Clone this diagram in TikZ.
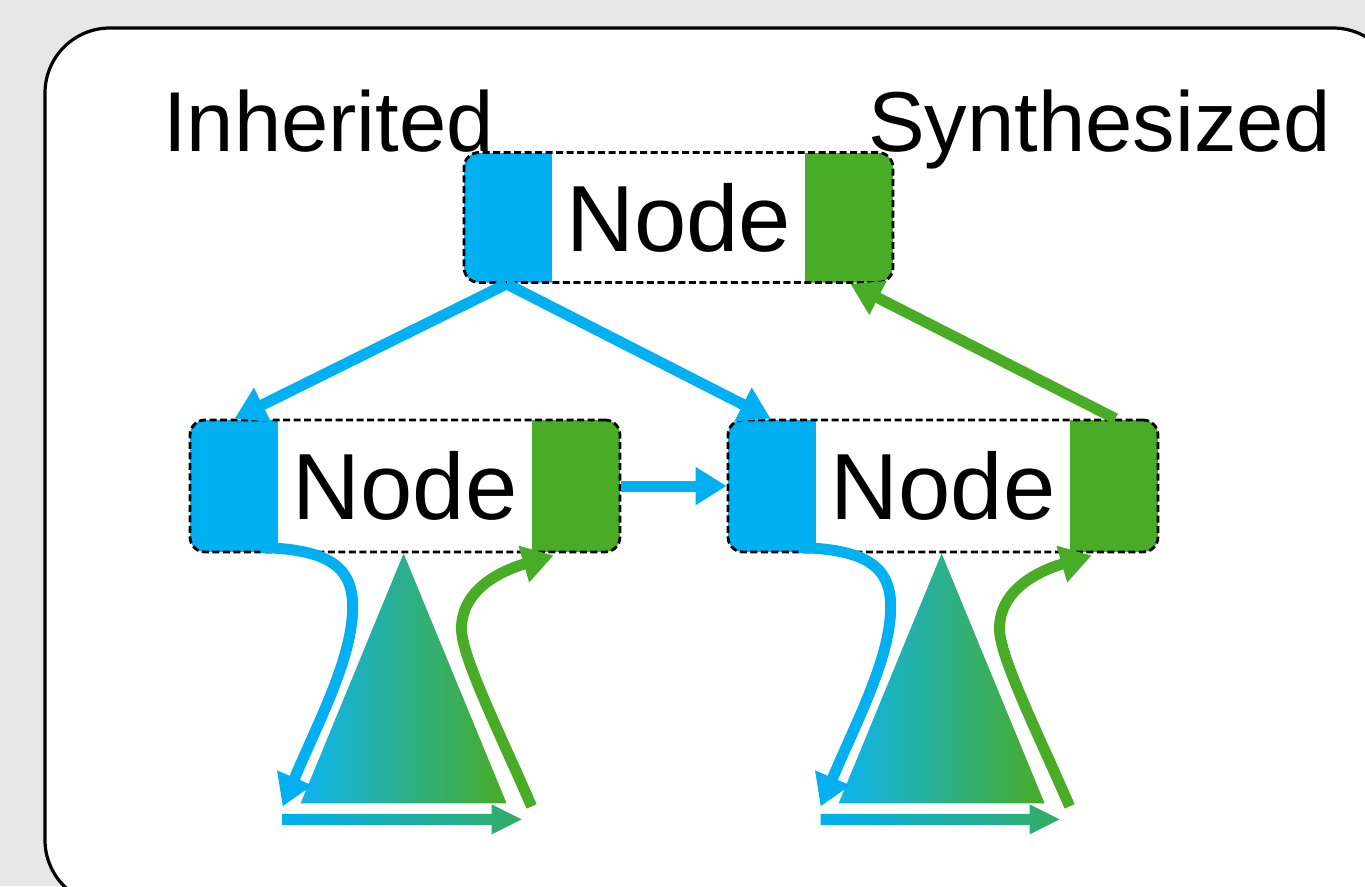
\documentclass[tikz,border=0pt]{standalone}
\usepackage{fontspec}
\setmainfont{Liberation Sans}
\usetikzlibrary{arrows.meta,calc,shadings}
\definecolor{cblue}{RGB}{0,176,240}
\definecolor{cgreen}{RGB}{73,172,38}
\definecolor{bggray}{RGB}{231,231,231}
\newcommand\drawsubtree[1]{%
  \begin{scope}[shift={(#1.south west)}]
    \shade[left color=cblue!95!white, middle color=cblue!55!cgreen, right color=cgreen] (215,0) -- (318,250) -- (112,250) -- cycle;
    \shade[left color=cblue, right color=cgreen!70!cblue]
      (94,260.5) -- (303,260.5) -- (303,251) -- (333,266) -- (303,281) -- (303,271.5) -- (94,271.5) -- cycle;
    \draw[bcurve] (72,-6) .. controls (140,-4) and (166,13) .. (164,58)
      .. controls (162,108) and (130,168) .. (94,253);
    \draw[gcurve] (343,253) .. controls (315,188) and (275,108) .. (273,78)
      .. controls (271,38) and (310,18) .. (365,2);
  \end{scope}}
\begin{document}
\begin{tikzpicture}[x=1pt,y=-1pt,
  attrbox/.style={draw=black, dash pattern=on 7pt off 3.5pt, line width=2.8pt,
    rounded corners=15pt, fill=white, minimum width=429pt, minimum height=130pt,
    inner sep=0pt, font=\fontsize{94}{110}\selectfont,
    path picture={
      \fill[cblue, sharp corners] (path picture bounding box.north west) rectangle ([xshift=88pt]path picture bounding box.south west);
      \fill[cgreen, sharp corners] (path picture bounding box.north east) rectangle ([xshift=-88pt]path picture bounding box.south east);
    }},
  lbl/.style={inner sep=0pt, font=\fontsize{85}{100}\selectfont},
  tip/.style={-{Triangle[length=31pt,width=36pt]}},
  barrow/.style={tip, draw=cblue, line width=11pt},
  garrow/.style={tip, draw=cgreen, line width=11pt},
  bcurve/.style={tip, draw=cblue, line width=11pt},
  gcurve/.style={tip, draw=cgreen, line width=11pt},
]
\useasboundingbox (0,0) rectangle (1365,886);
\clip (0,0) rectangle (1365,886);
\fill[bggray] (0,0) rectangle (1365,886);
\draw[line width=3.2pt, fill=white, rounded corners=65pt] (45,28) rectangle (1398,905);

\node[lbl, anchor=base west] (inh) at (163,151) {Inherited};
\node[lbl, anchor=base west] (syn) at (868,151) {Synthesized};

\node[attrbox] (top) at (678.5,217.5) {Node};
\node[attrbox, minimum width=430pt, minimum height=132pt] (left) at (405,486) {Node};
\node[attrbox, minimum width=430pt, minimum height=132pt] (right) at (943,486) {Node};

\draw[barrow] ([xshift=44pt]top.south west) -- ([xshift=46pt]left.north west);
\draw[barrow] ([xshift=44pt]top.south west) -- ([xshift=44pt]right.north west);
\draw[garrow] ([xshift=-44pt]right.north east) -- ([xshift=-44pt]top.south east);
\draw[barrow] (left.east) -- (right.west);

\drawsubtree{left}
\drawsubtree{right}
\end{tikzpicture}
\end{document}
